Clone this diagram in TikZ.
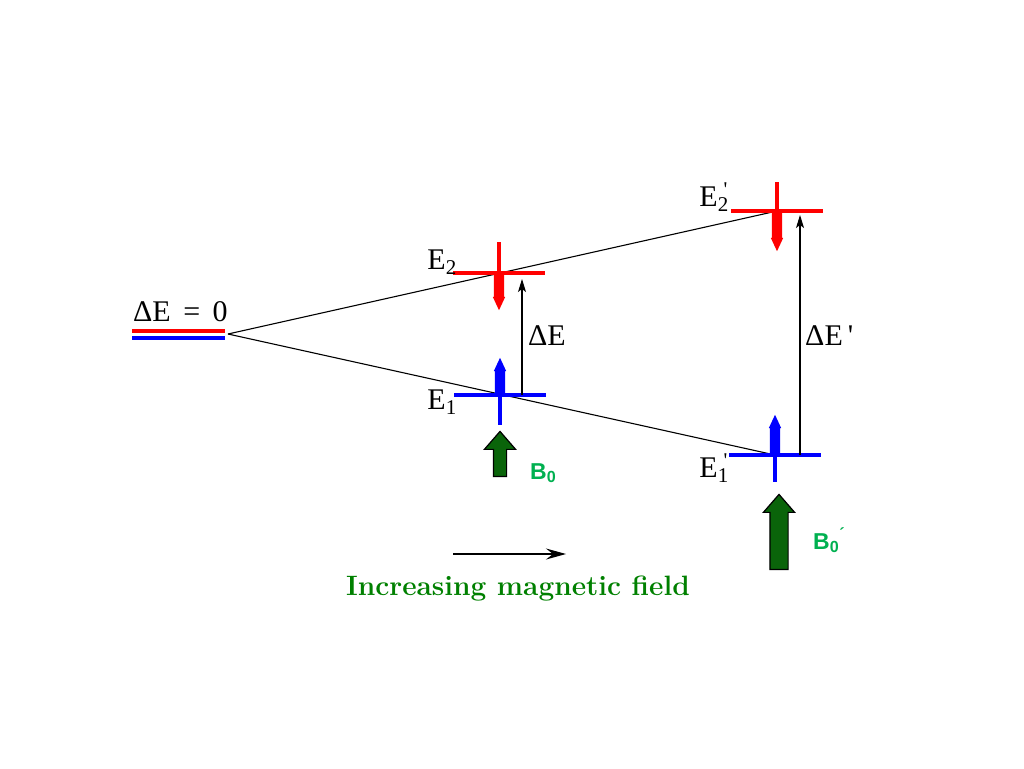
\documentclass[tikz,border=0pt]{standalone}
\usepackage{fontspec}
\newfontfamily\fieldfont{Liberation Sans}
\newfontfamily\levelfont{Liberation Serif}
\usetikzlibrary{arrows.meta,shapes.arrows}
\definecolor{fieldgreen}{RGB}{0,128,0}
\definecolor{bgreen}{RGB}{0,176,80}
\definecolor{arrowgreen}{RGB}{10,100,10}
\newcommand{\primed}[2]{#1\textsubscript{#2}\llap{\textsuperscript{'}\hspace{1pt}}}
\tikzstyle{level}=[line width=3.5pt]
\tikzstyle{spin}=[single arrow, inner xsep=0pt, inner ysep=5pt, minimum width=12pt, single arrow head extend=1pt, single arrow tip angle=50, anchor=tail]
\tikzstyle{field arrow}=[single arrow, draw=black, fill=arrowgreen, line width=1.2pt, inner xsep=0pt, single arrow tip angle=82, rotate=90, anchor=tail, minimum width=30pt]
\tikzstyle{split line}=[draw, line width=1.1pt]
\tikzstyle{gap}=[draw, line width=1.1pt, -{Stealth[length=13pt,width=8pt,inset=3pt]}]
\tikzstyle{energy}=[font=\levelfont\fontsize{30}{30}\selectfont, inner sep=0pt]
\tikzstyle{field label}=[font=\fieldfont\bfseries\fontsize{23}{23}\selectfont, text=bgreen, inner sep=0pt, anchor=base west]

\begin{document}
\begin{tikzpicture}[x=1pt,y=-1pt]
	\useasboundingbox (0,0) rectangle (1024,768);
	% First we place the centres of the levels
	\foreach \pos/\name in {{(228,334)/split}, {(499,273)/E2}, {(500,395)/E1}, {(777,211)/E2p}, {(775,455)/E1p}}
	\node[coordinate] (\name) at \pos {};

	% Degenerate level at zero field
	\draw[level, red] (132,331) -- (225,331);
	\draw[level, blue] (132,338) -- (225,338);
	\node[energy, anchor=base west] (zero) at (133,321) {ΔE\hspace{5pt} = \hspace{5pt}0};

	% Split lines
	\foreach \dest in {E2p, E1p}
	\path[split line] (split) -- (\dest);

	% Levels with their crosses and spins
	\foreach \name/\col/\len in {E2/red/31, E1/blue/-30, E2p/red/29, E1p/blue/-27}
	{
		\draw[level, \col] ([xshift=-46pt]\name) -- ([xshift=46pt]\name);
		\draw[level, \col] (\name) -- ([yshift=\len pt]\name);
	}
	\foreach \name/\col/\dir/\len in {E2/red/-90/37, E1/blue/90/37, E2p/red/-90/40, E1p/blue/90/40}
	\node[spin, fill=\col, rotate=\dir, minimum height=\len pt] (spin\name) at (\name) {};

	% Energy labels
	\node[energy, anchor=base east] (lE2) at (457,269) {E\textsubscript{2}};
	\node[energy, anchor=base east] (lE1) at (457,409) {E\textsubscript{1}};
	\node[energy, anchor=base east] (lE2p) at (729,206) {\primed{E}{2}};
	\node[energy, anchor=base east] (lE1p) at (729,477) {\primed{E}{1}};

	% Energy gaps
	\coordinate (gap) at ([xshift=22pt]E1);
	\coordinate (gapp) at ([xshift=25pt]E1p);
	\path[gap, shorten >=6pt] (gap) -- (gap |- E2);
	\path[gap, shorten >=4pt] (gapp) -- (gapp |- E2p);
	\node[energy, anchor=base west] (dE) at (528,345) {ΔE};
	\node[energy, anchor=base west] (dEp) at (805,345) {ΔE\,'};

	% Applied fields
	\node[field arrow, inner ysep=6pt, minimum height=45pt, single arrow head extend=9pt] (B0) at (500,477) {};
	\node[field arrow, inner ysep=8.5pt, minimum height=75pt, single arrow head extend=6.5pt] (B0p) at (779,570) {};
	\node[field label] (lB0) at (530,479) {B\textsubscript{0}};
	\node[field label] (lB0p) at (813,549) {B\textsubscript{0}\textsuperscript{´}};

	% Direction of increasing field
	\coordinate (from) at (453,554);
	\coordinate (to) at (566,554);
	\path[draw, line width=1.3pt, -{Stealth[length=20pt,width=11pt,inset=7pt]}] (from) -- (to);
	\node[font=\bfseries\fontsize{28}{28}\selectfont, text=fieldgreen, inner sep=0pt, anchor=base] (title) at (518,595) {Increasing magnetic field};
\end{tikzpicture}
\end{document}
